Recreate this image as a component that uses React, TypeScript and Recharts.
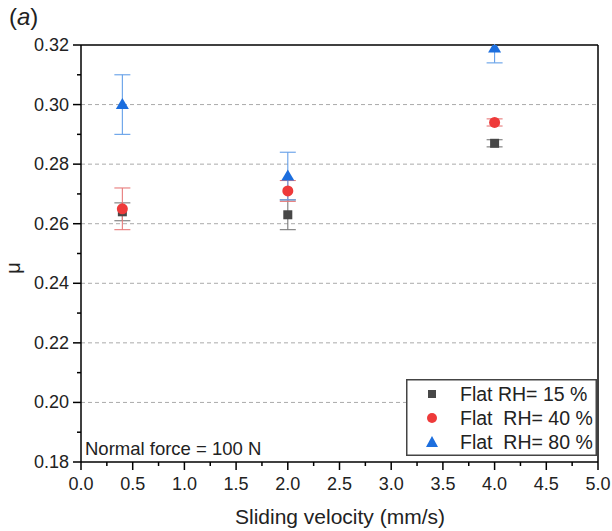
import React from 'react';
import {
  ScatterChart,
  Scatter,
  XAxis,
  YAxis,
  ErrorBar,
  ReferenceLine,
  Legend,
  Customized,
} from 'recharts';

// ---- data ----
const velocity = [0.4, 2.0, 4.0];
const mu15 = [0.264, 0.263, 0.287];
const err15 = [0.003, 0.005, 0.0012];
const mu40 = [0.265, 0.271, 0.294];
const err40 = [0.007, 0.0035, 0.0012];
const mu80 = [0.3, 0.276, 0.319];
const err80 = [0.01, 0.008, 0.005];

const seriesNames = ['Flat RH= 15 %', 'Flat  RH= 40 %', 'Flat  RH= 80 %'];

const xTicks = [0, 0.25, 0.5, 0.75, 1, 1.25, 1.5, 1.75, 2, 2.25, 2.5, 2.75, 3, 3.25, 3.5, 3.75, 4, 4.25, 4.5, 4.75, 5];
const yTicks = [0.18, 0.19, 0.2, 0.21, 0.22, 0.23, 0.24, 0.25, 0.26, 0.27, 0.28, 0.29, 0.3, 0.31, 0.32];
const gridValues = [0.2, 0.22, 0.24, 0.26, 0.28, 0.3];

const build = (ys: number[], es: number[]) =>
  velocity.map((v, i) => ({ x: v, y: ys[i], err: [es[i], es[i]] }));

const data15 = build(mu15, err15);
const data40 = build(mu40, err40);
const data80 = build(mu80, err80);

const FONT = "'Liberation Sans', Arial, Helvetica, sans-serif";
const C15 = '#474747';
const C40 = '#ee3a3a';
const C80 = '#1c6ede';
const E15 = '#7a7a7a';
const E40 = '#e77a7a';
const E80 = '#649fe8';

const SquareShape = (p: any) => (
  <rect x={p.cx - 4.5} y={p.cy - 4.5} width={9} height={9} fill={C15} />
);
const CircleShape = (p: any) => <circle cx={p.cx} cy={p.cy} r={5.5} fill={C40} />;
const TriangleShape = (p: any) => (
  <path
    d={`M${p.cx},${p.cy - 6.5} L${p.cx + 6.5},${p.cy + 4.5} L${p.cx - 6.5},${p.cy + 4.5} Z`}
    fill={C80}
  />
);

const XTick = (props: any) => {
  const { x, y, payload } = props;
  const v = payload.value as number;
  const major = Math.abs(v * 2 - Math.round(v * 2)) < 1e-6;
  return (
    <g>
      <line x1={x} x2={x} y1={y} y2={y + (major ? 8 : 4)} stroke="#000" strokeWidth={1.5} />
      {major && (
        <text x={x} y={y + 28} textAnchor="middle" fontSize={18} fontFamily={FONT} fill="#222">
          {v.toFixed(1)}
        </text>
      )}
    </g>
  );
};

const YTick = (props: any) => {
  const { x, y, payload } = props;
  const v = payload.value as number;
  const major = Math.round(v * 100) % 2 === 0;
  return (
    <g>
      <line x1={x} x2={x - (major ? 8 : 4)} y1={y} y2={y} stroke="#000" strokeWidth={1.5} />
      {major && (
        <text x={x - 12} y={y + 6} textAnchor="end" fontSize={18} fontFamily={FONT} fill="#222">
          {v.toFixed(2)}
        </text>
      )}
    </g>
  );
};

const Annotations = () => (
  <g fontFamily={FONT} fill="#222">
    <text x={85} y={455} fontSize={18.5}>
      Normal force = 100 N
    </text>
    <text x={340} y={524} fontSize={21} textAnchor="middle">
      Sliding velocity (mm/s)
    </text>
    <text x={20} y={268} fontSize={20} textAnchor="middle" transform="rotate(-90 20 268)">
      μ
    </text>
  </g>
);

const legendIcons = [
  <rect key="s" x={3} y={3} width={8} height={8} fill={C15} />,
  <circle key="c" cx={7} cy={7} r={5} fill={C40} />,
  <path key="t" d="M7,1 L13,12 L1,12 Z" fill={C80} />,
];

const LegendBox = () => (
  <svg width={191} height={77} style={{ display: 'block' }}>
    <rect x={0.75} y={0.75} width={189.5} height={75.5} fill="#fff" stroke="#444" strokeWidth={1.5} />
    {seriesNames.map((n, i) => (
      <g key={n}>
        <g transform={`translate(19, ${8 + i * 24})`}>{legendIcons[i]}</g>
        <text
          x={54}
          y={22 + i * 24}
          fontFamily={FONT}
          fontSize={19.5}
          fill="#222"
          style={{ whiteSpace: 'pre' }}
        >
          {n}
        </text>
      </g>
    ))}
  </svg>
);

export default function App() {
  return (
    <div style={{ position: 'absolute', left: 0, top: 0, width: 612, height: 531, background: '#fff' }}>
      <ScatterChart width={612} height={531} margin={{ top: 45, right: 14, left: 0, bottom: 0 }}>
        <XAxis
          type="number"
          dataKey="x"
          domain={[0, 5]}
          ticks={xTicks}
          interval={0}
          allowDataOverflow
          height={69}
          tickSize={0}
          tickMargin={0}
          tickLine={false}
          tick={<XTick />}
          axisLine={{ stroke: '#000', strokeWidth: 1.5 }}
        />
        <YAxis
          type="number"
          dataKey="y"
          domain={[0.18, 0.32]}
          ticks={yTicks}
          interval={0}
          allowDataOverflow
          width={81}
          tickSize={0}
          tickMargin={0}
          tickLine={false}
          tick={<YTick />}
          axisLine={{ stroke: '#000', strokeWidth: 1.5 }}
        />
        {gridValues.map((g) => (
          <ReferenceLine key={g} y={g} stroke="#aaaaaa" strokeDasharray="4 3" strokeWidth={1} />
        ))}
        <ReferenceLine y={0.32} stroke="#000" strokeWidth={1.5} />
        <ReferenceLine x={5} stroke="#000" strokeWidth={1.5} />
        <Scatter name={seriesNames[0]} data={data15} shape={<SquareShape />} isAnimationActive={false}>
          <ErrorBar dataKey="err" direction="y" width={8} stroke={E15} strokeWidth={1.1} />
        </Scatter>
        <Scatter name={seriesNames[1]} data={data40} shape={<CircleShape />} isAnimationActive={false}>
          <ErrorBar dataKey="err" direction="y" width={8} stroke={E40} strokeWidth={1.1} />
        </Scatter>
        <Scatter name={seriesNames[2]} data={data80} shape={<TriangleShape />} isAnimationActive={false}>
          <ErrorBar dataKey="err" direction="y" width={8} stroke={E80} strokeWidth={1.1} />
        </Scatter>
        <Legend
          layout="vertical"
          align="center"
          verticalAlign="middle"
          content={<LegendBox />}
          wrapperStyle={{ left: 406, top: 379, width: 191, height: 77 }}
        />
        <Customized component={<Annotations />} />
      </ScatterChart>
      {/* white mask over the area above the plot frame, so marks past the 0.32 limit are cut off as in the reference */}
      <div
        style={{
          position: 'absolute',
          left: 75,
          top: 0,
          width: 537,
          height: 44.25,
          background: '#fff',
        }}
      />
      <div
        style={{
          position: 'absolute',
          left: 9,
          top: 2,
          fontFamily: FONT,
          fontSize: 24,
          color: '#222',
          lineHeight: '30px',
        }}
      >
        (<i>a</i>)
      </div>
    </div>
  );
}
